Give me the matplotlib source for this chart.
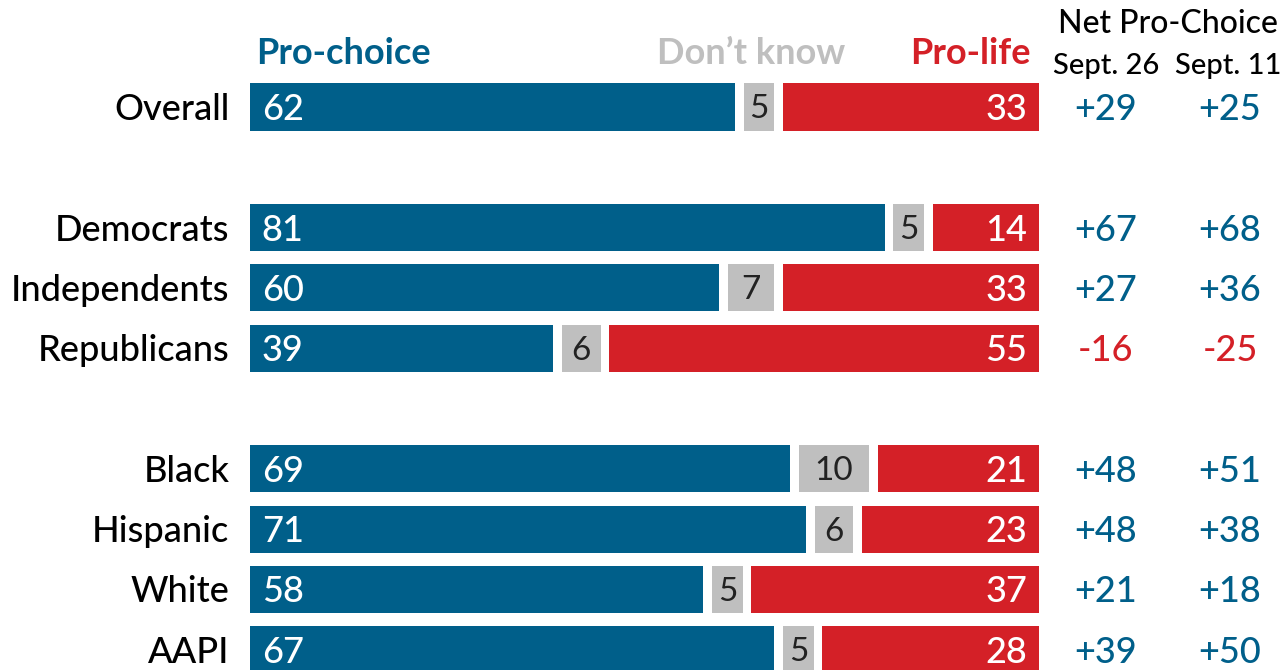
import numpy as np
import matplotlib.pyplot as plt

groups = ['Overall', 'Democrats', 'Independents', 'Republicans',
          'Black', 'Hispanic', 'White', 'AAPI']
rows = [0, 2, 3, 4, 6, 7, 8, 9]
pro_choice = [62, 81, 60, 39, 69, 71, 58, 67]
dont_know = [5, 5, 7, 6, 10, 6, 5, 5]
pro_life = [33, 14, 33, 55, 21, 23, 37, 28]
net_sept26 = [29, 67, 27, -16, 48, 48, 21, 39]
net_sept11 = [25, 68, 36, -25, 51, 38, 18, 50]

BLUE = '#005f8a'
RED = '#d42027'
GRAY = '#bfbfbf'
plt.rcParams['font.family'] = ['Lato', 'DejaVu Sans']

fig = plt.figure(figsize=(12.86, 6.70), dpi=100)
ax = fig.add_axes([0, 0, 1, 1])
# pixel mapping: x 0..100 -> px 250..1039, row r -> px 107 + 60.3 r
ax.set_xlim(-250 / 7.89, (1286 - 250) / 7.89)
ax.set_ylim((670 - 107) / 60.3, -107 / 60.3)
ax.axis('off')

gap = 0.55
h = 0.78
fs = 26
wt = 'medium'
dy = 0.04
for r, a, b, c in zip(rows, pro_choice, dont_know, pro_life):
    ax.barh(r, a - gap, left=0, height=h, color=BLUE)
    ax.barh(r, b - 2 * gap, left=a + gap, height=h, color=GRAY)
    ax.barh(r, c - gap, left=a + b + gap, height=h, color=RED)
    ax.text(1.5, r + dy, str(a), color='white', fontsize=fs, fontweight=wt, va='center', ha='left')
    ax.text(a + b / 2, r + dy, str(b), color='#222222', fontsize=fs - 2, va='center', ha='center')
    ax.text(98.5, r + dy, str(c), color='white', fontsize=fs, fontweight=wt, va='center', ha='right')

for r, g in zip(rows, groups):
    ax.text(-2.6, r + dy, g, color='black', fontsize=fs, fontweight=wt, va='center', ha='right')

def fmt(v):
    return f'+{v}' if v > 0 else str(v)

x26 = (1106 - 250) / 7.89
x11 = (1230 - 250) / 7.89
for r, v1, v2 in zip(rows, net_sept26, net_sept11):
    ax.text(x26, r + dy, fmt(v1), color=BLUE if v1 > 0 else RED, fontsize=fs, fontweight=wt, va='center', ha='center')
    ax.text(x11, r + dy, fmt(v2), color=BLUE if v2 > 0 else RED, fontsize=fs, fontweight=wt, va='center', ha='center')

yh = (53 - 107) / 60.3
ax.text(0.75, yh, 'Pro-choice', color=BLUE, fontsize=fs, fontweight='bold', va='center', ha='left')
ax.text((845 - 250) / 7.89, yh, 'Don\u2019t know', color=GRAY, fontsize=fs, fontweight='bold', va='center', ha='right')
ax.text((1031 - 250) / 7.89, yh, 'Pro-life', color=RED, fontsize=fs, fontweight='bold', va='center', ha='right')

ax.text((1168 - 250) / 7.89, (24 - 107) / 60.3, 'Net Pro-Choice', color='black', fontsize=23, fontweight=wt, va='center', ha='center')
ax.text(x26, (66 - 107) / 60.3, 'Sept. 26', color='black', fontsize=21, fontweight=wt, va='center', ha='center')
ax.text((1228 - 250) / 7.89, (66 - 107) / 60.3, 'Sept. 11', color='black', fontsize=21, fontweight=wt, va='center', ha='center')

fig.savefig('out.png', dpi=100)
